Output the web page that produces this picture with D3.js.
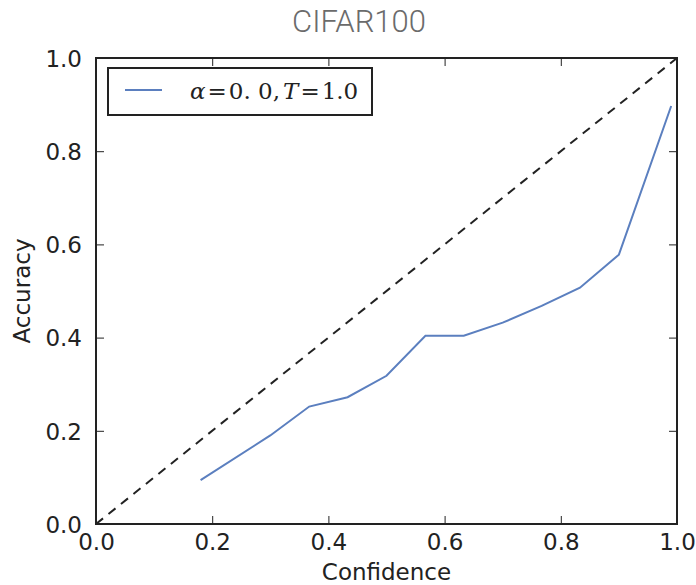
<!DOCTYPE html>
<html>
<head>
<meta charset="utf-8">
<script src="https://cdn.jsdelivr.net/npm/d3@7"></script>
<style>
    body { margin: 0; background: #fff; }
    .tick-label { font-family: "DejaVu Sans", sans-serif; font-size: 23px; fill: #222; }
    .axis-title { font-family: "DejaVu Sans", sans-serif; font-size: 23px; fill: #222; }
</style>
</head>
<body>
<svg id="chart"></svg>
<script>
// Reliability diagram values
const confidence = [0.18, 0.30, 0.367, 0.433, 0.50, 0.567, 0.633, 0.70, 0.767, 0.833, 0.90, 0.99];
const accuracy = [0.094, 0.19, 0.252, 0.272, 0.318, 0.404, 0.404, 0.432, 0.468, 0.507, 0.578, 0.897];
const tickValues = [0.0, 0.2, 0.4, 0.6, 0.8, 1.0];
const diagonal = [0, 1];
const titleText = "CIFAR100";

const margin = { top: 58, right: 19, bottom: 61, left: 96 };
const W = 696, H = 585;
const width = W - margin.left - margin.right;
const height = H - margin.top - margin.bottom;

const root = d3.select("#chart").attr("width", W).attr("height", H);
const svg = root.append("g").attr("transform", `translate(${margin.left},${margin.top})`);

const x = d3.scaleLinear().domain([0, 1]).range([0, width]);
const y = d3.scaleLinear().domain([0, 1]).range([height, 0]);

// Title
root.append("text")
    .attr("x", 359)
    .attr("y", 32)
    .attr("text-anchor", "middle")
    .style("font-family", "Roboto, sans-serif")
    .style("font-weight", 300)
    .style("font-size", "31px")
    .style("fill", "#6b6b6b")
    .text(titleText);

// Perfect calibration diagonal
svg.append("path")
    .datum(diagonal)
    .attr("fill", "none")
    .attr("stroke", "#222")
    .attr("stroke-width", 2)
    .attr("stroke-dasharray", "9,7")
    .attr("d", d3.line().x(d => x(d)).y(d => y(d)));

// Model curve
svg.append("path")
    .datum(confidence.map((c, i) => [c, accuracy[i]]))
    .attr("fill", "none")
    .attr("stroke", "#5b7fbf")
    .attr("stroke-width", 2)
    .attr("d", d3.line().x(d => x(d[0])).y(d => y(d[1])));

// Inward ticks on all four sides
const tickLen = 8;
const axes = [
    d3.axisBottom(x).tickValues(tickValues).tickSizeInner(-tickLen).tickSizeOuter(0).tickFormat(d3.format(".1f")),
    d3.axisTop(x).tickValues(tickValues).tickSizeInner(-tickLen).tickSizeOuter(0).tickFormat(""),
    d3.axisLeft(y).tickValues(tickValues).tickSizeInner(-tickLen).tickSizeOuter(0).tickFormat(d3.format(".1f")),
    d3.axisRight(y).tickValues(tickValues).tickSizeInner(-tickLen).tickSizeOuter(0).tickFormat("")
];
const shifts = [`translate(0,${height})`, "translate(0,0)", "translate(0,0)", `translate(${width},0)`];
axes.forEach((ax, i) => {
    const g = svg.append("g").attr("transform", shifts[i]).call(ax);
    g.select(".domain").remove();
    g.selectAll(".tick line").attr("stroke", "#222").attr("stroke-width", 1);
    g.selectAll(".tick text").attr("class", "tick-label").attr("fill", null);
    if (i === 0) g.selectAll(".tick text").attr("dy", null).attr("y", 26);
    if (i === 2) g.selectAll(".tick text").attr("x", -14).attr("dy", "0.36em");
});

// Frame
svg.append("rect")
    .attr("width", width)
    .attr("height", height)
    .attr("fill", "none")
    .attr("stroke", "#222")
    .attr("stroke-width", 2);

// Axis titles
root.append("text")
    .attr("class", "axis-title")
    .attr("x", margin.left + width / 2)
    .attr("y", 580)
    .attr("text-anchor", "middle")
    .text("Confidence");

root.append("text")
    .attr("class", "axis-title")
    .attr("transform", `translate(30,${margin.top + height / 2}) rotate(-90)`)
    .attr("text-anchor", "middle")
    .text("Accuracy");

// Legend
const legend = svg.append("g").attr("transform", "translate(12,10)");
legend.append("rect")
    .attr("width", 264)
    .attr("height", 47)
    .attr("fill", "#fff")
    .attr("stroke", "#222")
    .attr("stroke-width", 2);
legend.append("line")
    .attr("x1", 17).attr("x2", 54)
    .attr("y1", 22).attr("y2", 22)
    .attr("stroke", "#5b7fbf")
    .attr("stroke-width", 2);
const lt = legend.append("text")
    .attr("x", 82)
    .attr("y", 31)
    .style("font-family", "'DejaVu Serif', serif")
    .style("font-size", "23px")
    .style("fill", "#222");
lt.append("tspan").style("font-style", "italic").text("α");
lt.append("tspan").attr("dx", 2).text("=");
lt.append("tspan").attr("dx", 2).text("0. 0,");
lt.append("tspan").attr("dx", 3).style("font-style", "italic").text("T");
lt.append("tspan").attr("dx", 2).text("=");
lt.append("tspan").attr("dx", 2).text("1.0");
</script>
</body>
</html>
